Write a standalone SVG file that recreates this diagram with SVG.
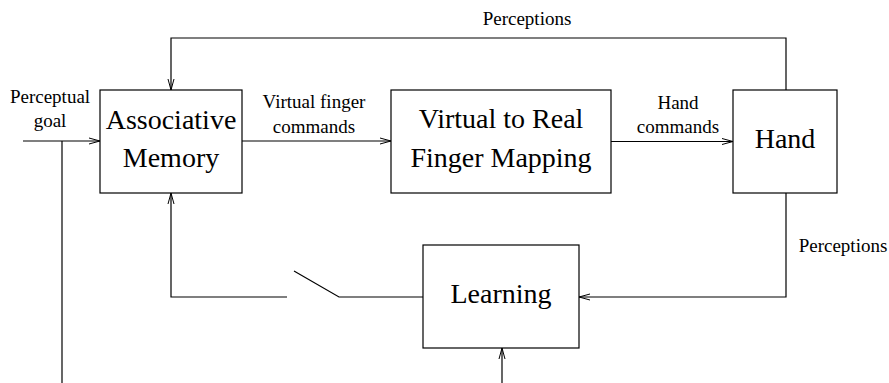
<svg xmlns="http://www.w3.org/2000/svg" width="889" height="383" viewBox="0 0 889 383">
<defs>
<marker id="arr" markerWidth="12" markerHeight="8" refX="11" refY="4" orient="auto" markerUnits="userSpaceOnUse">
<path d="M0,1 L11,4 L0,7" fill="none" stroke="#000" stroke-width="1"/>
</marker>
<style>
.box{fill:#fff;stroke:#000;stroke-width:1.2}
.big{font-family:"Liberation Serif",serif;font-size:28px;text-anchor:middle;fill:#000}
.sm{font-family:"Liberation Serif",serif;font-size:19px;text-anchor:middle;fill:#000}
.ln{fill:none;stroke:#000;stroke-width:1.2}
</style>
</defs>
<rect width="889" height="383" fill="#fff"/>
<g id="connectors">
<path class="ln" d="M23,141 L100,141" marker-end="url(#arr)"/>
<path class="ln" d="M62,141 L62,383"/>
<path class="ln" d="M242,141 L391,141" marker-end="url(#arr)"/>
<path class="ln" d="M611,141.5 L733,141.5" marker-end="url(#arr)"/>
<path class="ln" d="M786,90 L786,38 L171,38 L171,90" marker-end="url(#arr)"/>
<path class="ln" d="M786,193 L786,297 L579,297" marker-end="url(#arr)"/>
<path class="ln" d="M502,383 L502,348" marker-end="url(#arr)"/>
<path class="ln" d="M423,297 L339,297 L294,271"/>
<path class="ln" d="M287,297 L171,297 L171,193" marker-end="url(#arr)"/>
</g>
<g id="associative-memory">
<rect class="box" x="100" y="90" width="142" height="103"/>
<text class="big" x="171" y="129">Associative</text>
<text class="big" x="171" y="167">Memory</text>
</g>
<g id="virtual-to-real">
<rect class="box" x="391" y="90" width="220" height="103"/>
<text class="big" x="501" y="128">Virtual to Real</text>
<text class="big" x="501" y="167">Finger Mapping</text>
</g>
<g id="hand">
<rect class="box" x="733" y="90" width="104" height="103"/>
<text class="big" x="785" y="148">Hand</text>
</g>
<g id="learning">
<rect class="box" x="423" y="245" width="156" height="103"/>
<text class="big" x="501" y="303">Learning</text>
</g>
<g id="labels">
<text class="sm" x="50" y="103">Perceptual</text>
<text class="sm" x="50" y="127">goal</text>
<text class="sm" x="314" y="108">Virtual finger</text>
<text class="sm" x="314" y="133">commands</text>
<text class="sm" x="678" y="109">Hand</text>
<text class="sm" x="678" y="133">commands</text>
<text class="sm" x="527" y="25">Perceptions</text>
<text class="sm" x="843" y="252">Perceptions</text>
</g>
</svg>
